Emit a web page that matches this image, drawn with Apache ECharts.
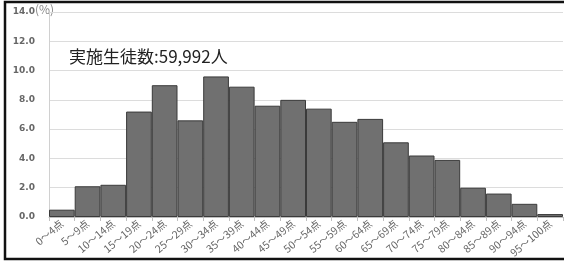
<!DOCTYPE html>
<html>
<head>
<meta charset="utf-8">
<style>
  html, body { margin: 0; padding: 0; background: #fff; }
  #chart { width: 564px; height: 263px; }
</style>
<script src="https://cdn.jsdelivr.net/npm/echarts@6/dist/echarts.min.js"></script>
</head>
<body>
<div id="chart"></div>
<script>
const categories = ['0～4点', '5～9点', '10～14点', '15～19点', '20～24点', '25～29点', '30～34点',
  '35～39点', '40～44点', '45～49点', '50～54点', '55～59点', '60～64点', '65～69点', '70～74点',
  '75～79点', '80～84点', '85～89点', '90～94点', '95～100点'];
const percents = [0.5, 2.1, 2.2, 7.2, 9.0, 6.6, 9.6, 8.9, 7.6, 8.0, 7.4, 6.5, 6.7, 5.1, 4.2, 3.9, 2.0, 1.6, 0.9, 0.2];
const yTicks = { min: 0, max: 14, interval: 2 };
const noteText = '実施生徒数:59,992人';

const chart = echarts.init(document.getElementById('chart'));
chart.setOption({
  animation: false,
  grid: { left: 49, right: 1, top: 12, bottom: 46 },
  xAxis: {
    type: 'category',
    data: categories,
    axisLine: { lineStyle: { color: '#bfbfbf' } },
    axisTick: { show: true, length: 4, lineStyle: { color: '#bfbfbf' } },
    axisLabel: {
      rotate: 40,
      interval: 0,
      margin: 5,
      fontSize: 10.5,
      color: '#666',
      fontFamily: 'Noto Sans CJK JP'
    }
  },
  yAxis: {
    type: 'value',
    min: yTicks.min,
    max: yTicks.max,
    interval: yTicks.interval,
    axisLine: { show: true, lineStyle: { color: '#d0d0d0' } },
    axisTick: { show: false },
    splitLine: { lineStyle: { color: '#dcdcdc' } },
    axisLabel: {
      margin: 14,
      fontSize: 9,
      fontWeight: 'bold',
      color: '#666',
      fontFamily: 'DejaVu Sans',
      formatter: v => v.toFixed(1)
    }
  },
  series: [{
    type: 'bar',
    data: percents,
    barCategoryGap: 0,
    itemStyle: { color: '#707070', borderColor: '#3a3a3a', borderWidth: 1 }
  }],
  graphic: [
    {
      type: 'rect',
      shape: { x: 5, y: 2, width: 570, height: 257 },
      style: { fill: 'none', stroke: '#111', lineWidth: 2.5 }
    },
    {
      type: 'text',
      left: 35, top: 3,
      style: { text: '(%)', fontSize: 12, fill: '#888', fontFamily: 'Noto Sans CJK JP' }
    },
    {
      type: 'text',
      left: 69, top: 48,
      style: { text: noteText, fontSize: 17, fill: '#222', fontFamily: 'Noto Sans CJK JP' }
    }
  ]
});
</script>
</body>
</html>
